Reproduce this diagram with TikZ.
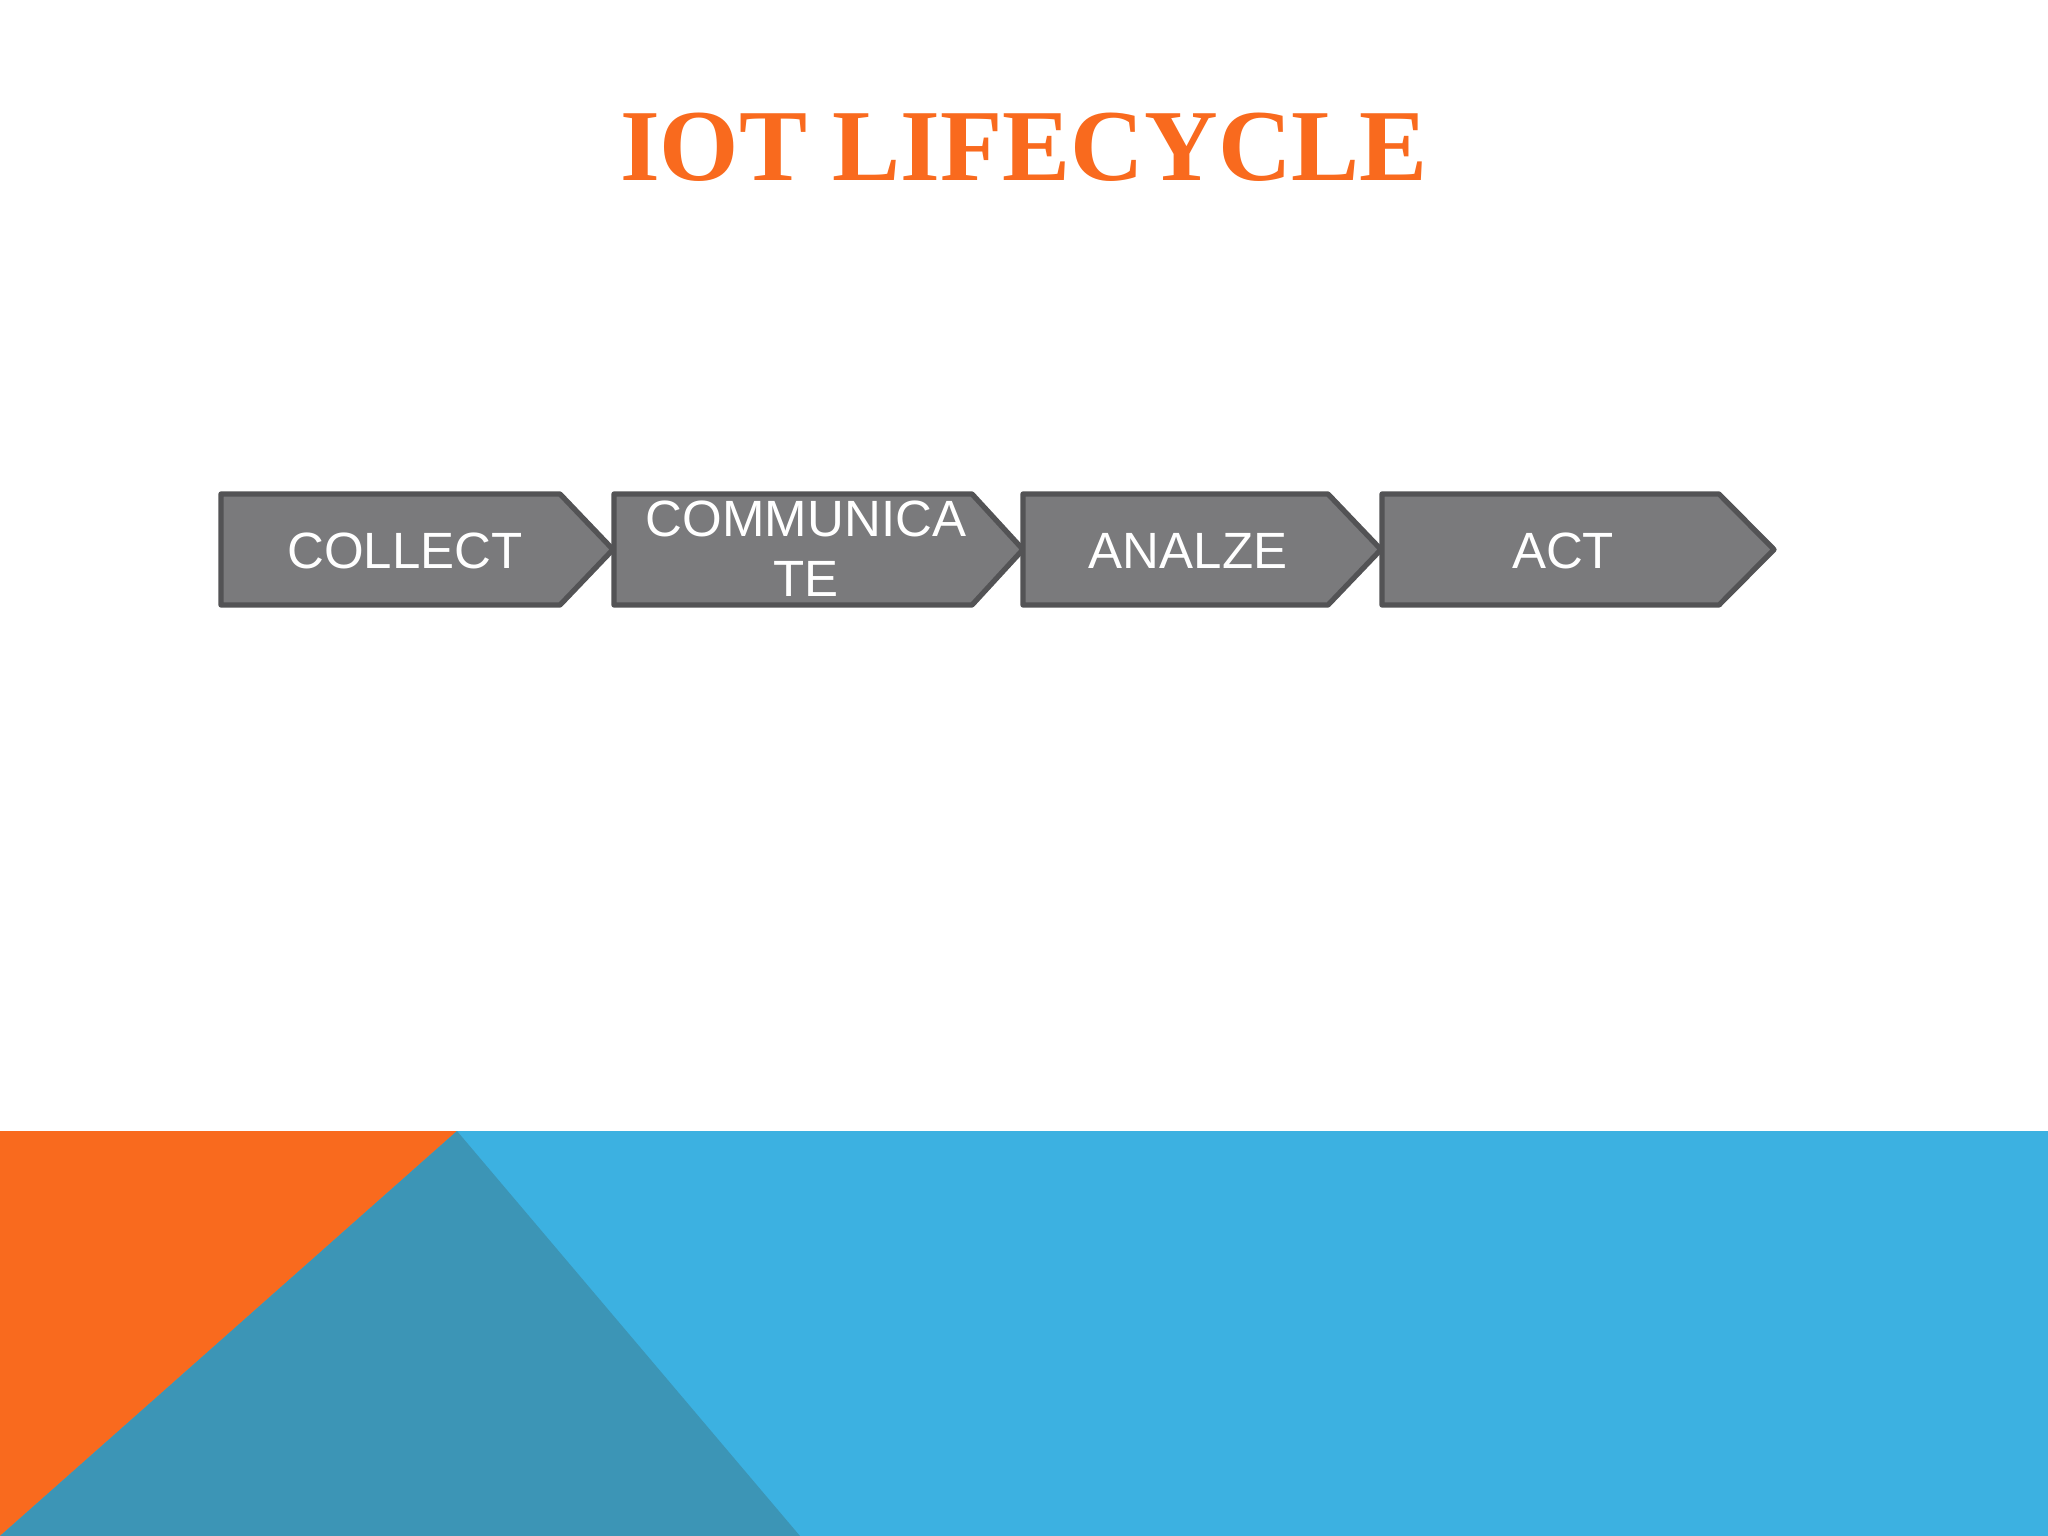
\documentclass[tikz,border=0pt]{standalone}
\usepackage{fontspec}
\setmainfont{Liberation Sans}
\newfontfamily\titlefont{Liberation Serif}
\definecolor{orangeA}{HTML}{F96A1E}
\definecolor{blueA}{HTML}{3CB1E1}
\definecolor{tealA}{HTML}{3C95B6}
\definecolor{boxfill}{HTML}{7A7A7C}
\definecolor{boxline}{HTML}{535355}
\tikzset{
  stepshape/.style={fill=boxfill, draw=boxline, line width=1.5pt, line join=round},
  steplabel/.style={text=white, font=\fontsize{14.5}{17}\selectfont, inner sep=0pt, align=center},
  titlestyle/.style={text=orangeA, font=\titlefont\bfseries\fontsize{29}{34}\selectfont, inner sep=0pt}
}
\begin{document}
\begin{tikzpicture}[x=0.01cm, y=-0.01cm]
\useasboundingbox (0,0) rectangle (2048,1536);
\fill[white] (0,0) rectangle (2048,1536);
% bottom band
\fill[blueA] (0,1131) rectangle (2048,1536);
\fill[orangeA] (0,1131) -- (457,1131) -- (0,1536) -- cycle;
\fill[tealA] (0,1536) -- (457,1131) -- (800,1536) -- cycle;
% title
\node[titlestyle, anchor=base] (title) at (1024,180) {IOT LIFECYCLE};
% step shapes
\draw[stepshape] (221,494) -- (560,494) -- (613,549.5) -- (560,605) -- (221,605) -- cycle;
\draw[stepshape] (614,494) -- (972,494) -- (1023,549.5) -- (972,605) -- (614,605) -- cycle;
\draw[stepshape] (1023,494) -- (1328,494) -- (1381,549.5) -- (1328,605) -- (1023,605) -- cycle;
\draw[stepshape] (1382,494) -- (1719,494) -- (1774,549.5) -- (1719,605) -- (1382,605) -- cycle;
% labels
\node[steplabel, anchor=base] (collect) at (405,568) {COLLECT};
\node[steplabel, anchor=center] (communicate) at (806,549) {COMMUNICA\\TE};
\node[steplabel, anchor=base] (analyze) at (1188,568) {ANALZE};
\node[steplabel, anchor=base] (act) at (1563,568) {ACT};
\end{tikzpicture}
\end{document}
